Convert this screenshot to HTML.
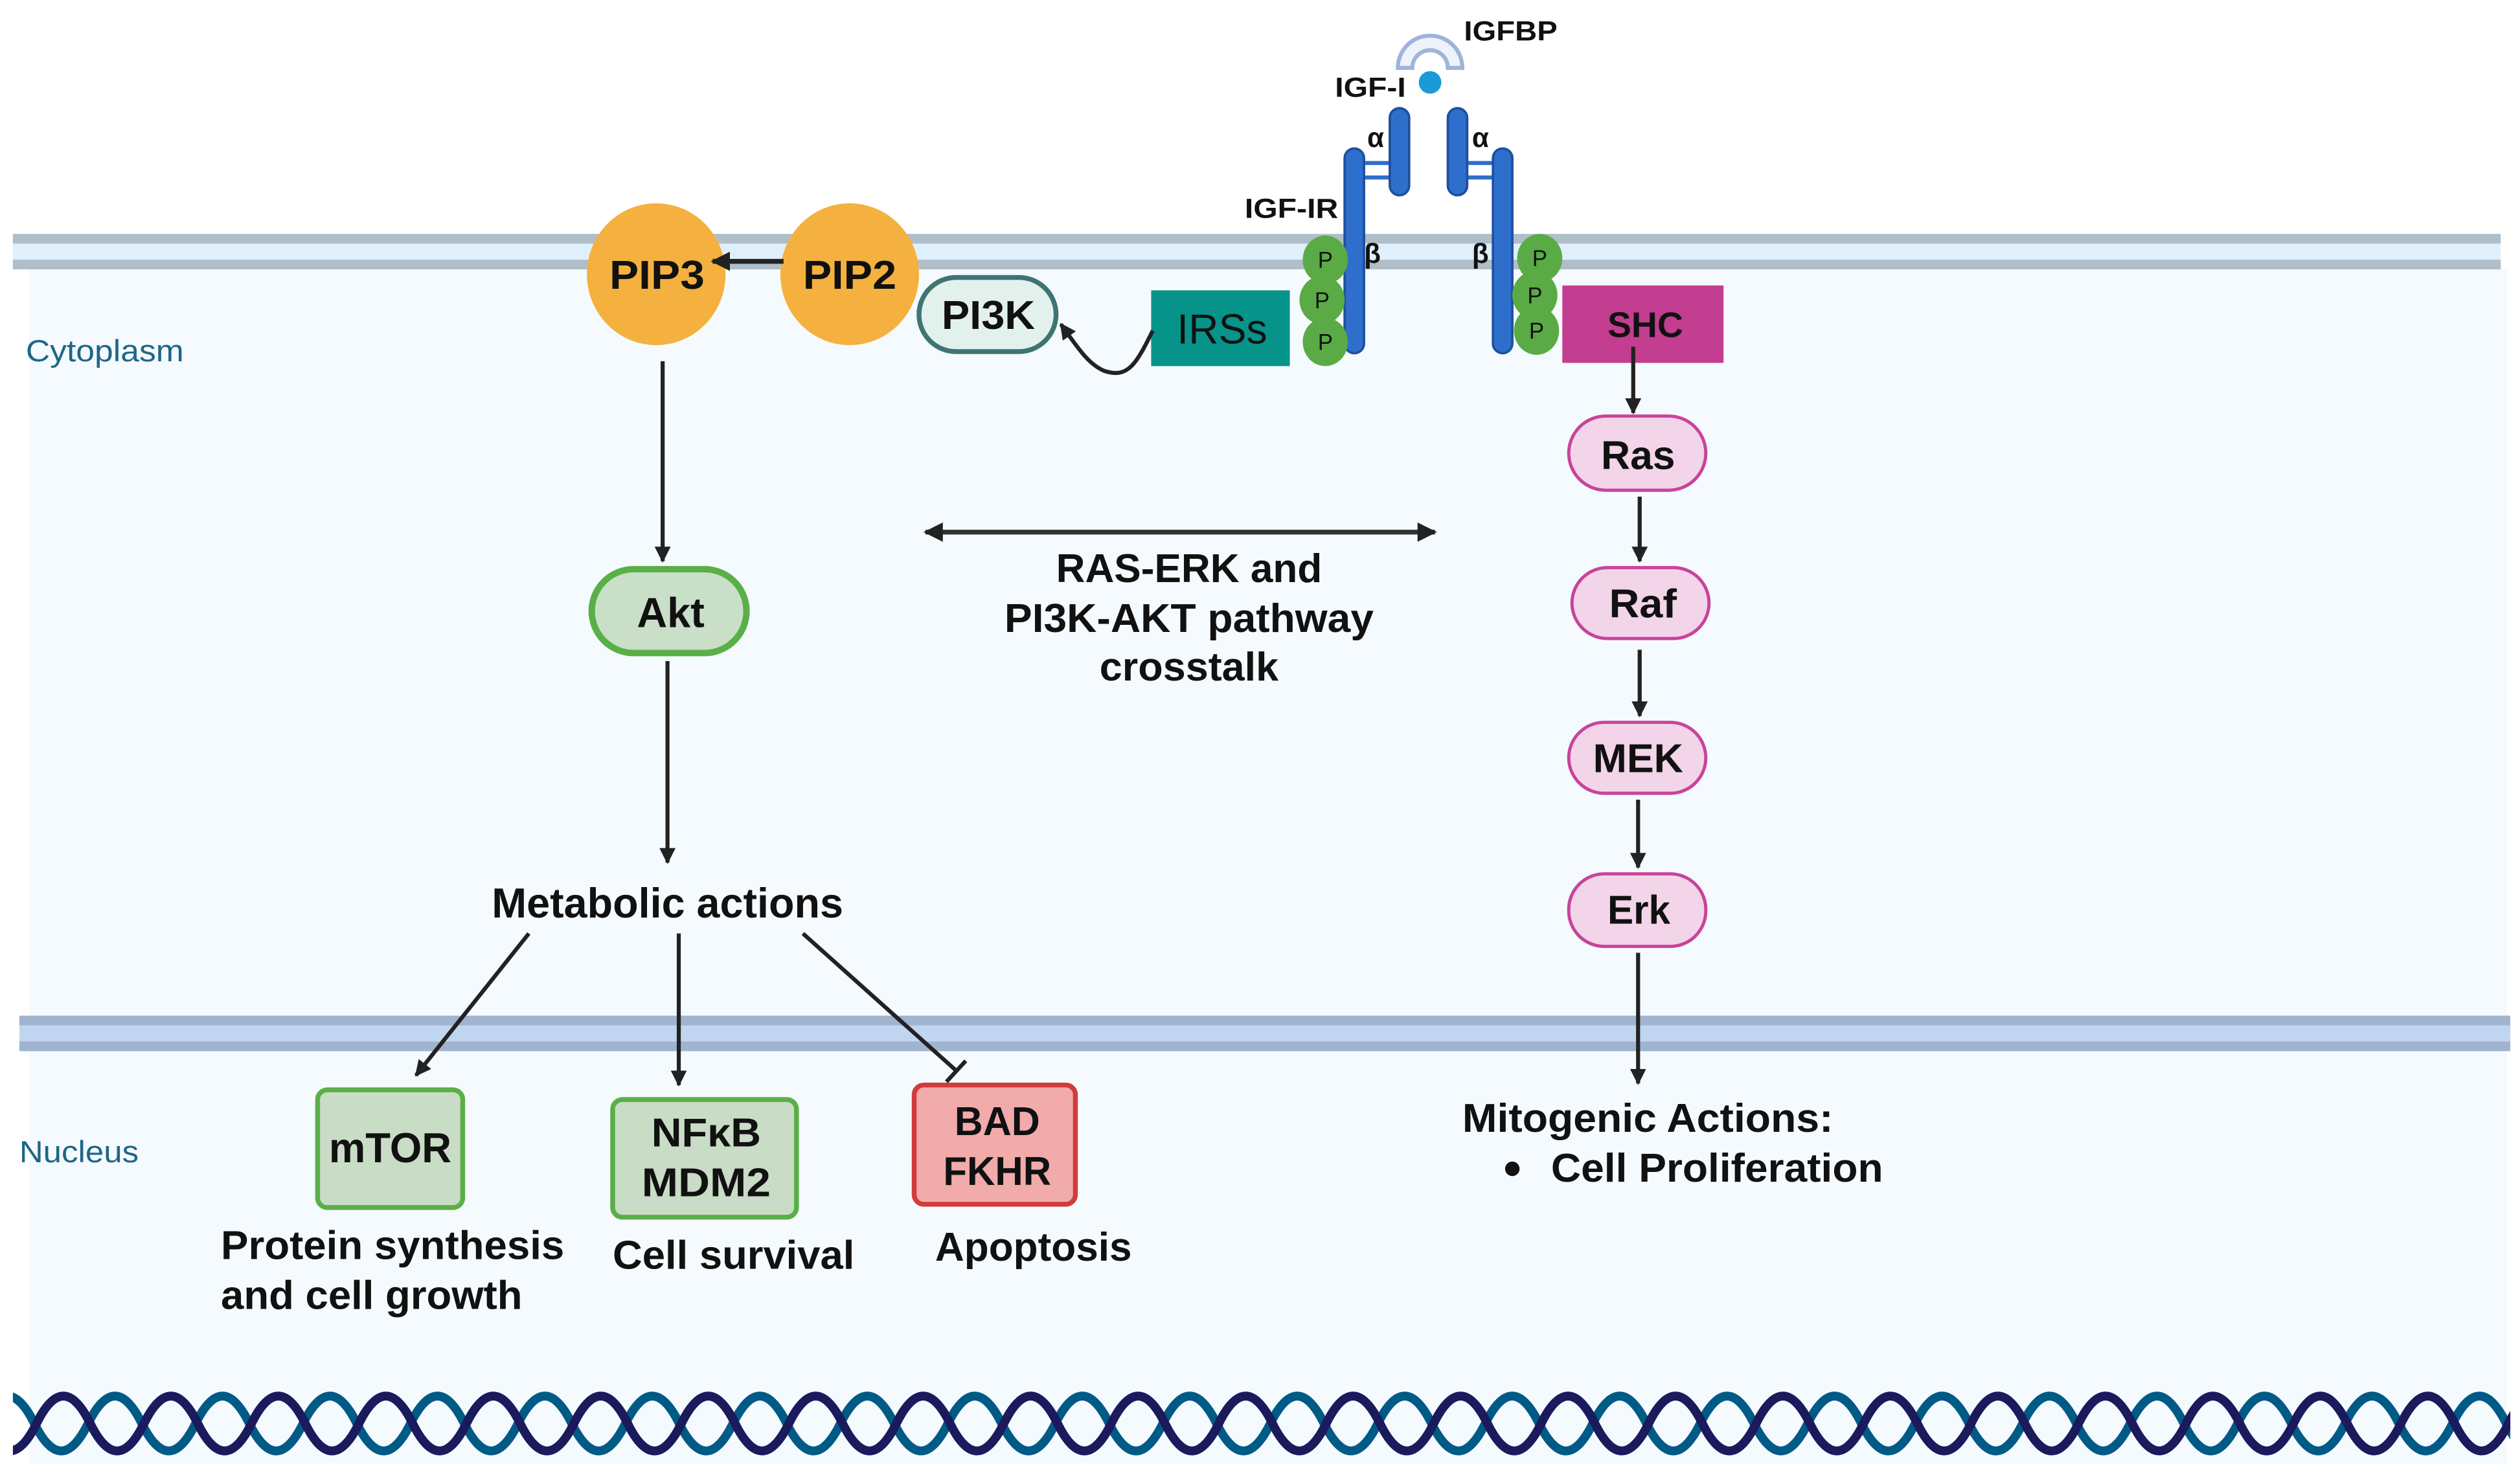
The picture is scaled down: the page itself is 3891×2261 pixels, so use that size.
<!DOCTYPE html>
<html><head><meta charset="utf-8"><style>
html,body{margin:0;padding:0;background:#fff;}
svg{display:block;}
text{font-family:"Liberation Sans",sans-serif;font-weight:bold;fill:#111;}
.n{font-weight:normal;}
</style></head><body>
<svg width="3891" height="2261" viewBox="0 0 1563 908" xmlns="http://www.w3.org/2000/svg">
<defs>
<marker id="ah" viewBox="0 0 10 10" refX="9" refY="5" markerWidth="4" markerHeight="4" orient="auto-start-reverse" markerUnits="strokeWidth"><path d="M0,0 L10,5 L0,10 z" fill="#222"/></marker>
<clipPath id="dc"><rect x="8" y="850" width="1549" height="60"/></clipPath>
</defs>
<rect width="1563" height="908" fill="#fff"/>
<rect x="18" y="167" width="1537" height="741" fill="#f5fafe"/>
<rect x="8" y="145" width="1543" height="22" fill="#e0effc"/>
<rect x="8" y="145" width="1543" height="6" fill="#b0bec9"/>
<rect x="8" y="161" width="1543" height="6" fill="#b0bec9"/>
<rect x="12" y="630" width="1545" height="22" fill="#c0d5f0"/>
<rect x="12" y="630" width="1545" height="6" fill="#a0b4cf"/>
<rect x="12" y="646" width="1545" height="6" fill="#a0b4cf"/>

<text class="n" x="16" y="224" font-size="19" style="fill:#1f6688" textLength="98" lengthAdjust="spacingAndGlyphs">Cytoplasm</text>
<text class="n" x="12" y="721" font-size="19" style="fill:#1f6688" textLength="74" lengthAdjust="spacingAndGlyphs">Nucleus</text>

<path d="M867,42 A20,20 0 0 1 907,42 L898,42 A11,11 0 0 0 876,42 Z" fill="#eef3fb" stroke="#9fb3dc" stroke-width="2.5"/>
<circle cx="887" cy="51" r="7" fill="#1a9ad6"/>
<text x="908" y="25" font-size="17" textLength="58" lengthAdjust="spacingAndGlyphs">IGFBP</text>
<text x="828" y="60" font-size="17" textLength="44" lengthAdjust="spacingAndGlyphs">IGF-I</text>
<text x="772" y="135" font-size="17" textLength="58" lengthAdjust="spacingAndGlyphs">IGF-IR</text>
<g fill="#2f6fcc" stroke="#1e4fa0" stroke-width="1.5">
<line x1="846" y1="101" x2="862" y2="101" stroke="#2f6fcc" stroke-width="2.5"/>
<line x1="846" y1="110" x2="862" y2="110" stroke="#2f6fcc" stroke-width="2.5"/>
<line x1="910" y1="101" x2="926" y2="101" stroke="#2f6fcc" stroke-width="2.5"/>
<line x1="910" y1="110" x2="926" y2="110" stroke="#2f6fcc" stroke-width="2.5"/>
<rect x="834" y="92" width="12" height="127" rx="6"/>
<rect x="862" y="67" width="12" height="54" rx="6"/>
<rect x="898" y="67" width="12" height="54" rx="6"/>
<rect x="926" y="92" width="12" height="127" rx="6"/>
</g>
<text x="848" y="91" font-size="17">α</text>
<text x="913" y="91" font-size="17">α</text>
<text x="846" y="163" font-size="17">β</text>
<text x="913" y="163" font-size="17">β</text>
<g fill="#5aab45">
<ellipse cx="822" cy="161" rx="14" ry="15"/><ellipse cx="820" cy="186" rx="14" ry="15"/><ellipse cx="822" cy="212" rx="14" ry="15"/>
<ellipse cx="955" cy="160" rx="14" ry="15"/><ellipse cx="952" cy="183" rx="14" ry="15"/><ellipse cx="953" cy="205" rx="14" ry="15"/>
</g>
<g font-size="14" class="n" text-anchor="middle">
<text class="n" x="822" y="166">P</text><text class="n" x="820" y="191">P</text><text class="n" x="822" y="217">P</text>
<text class="n" x="955" y="165">P</text><text class="n" x="952" y="188">P</text><text class="n" x="953" y="210">P</text>
</g>

<rect x="714" y="180" width="86" height="47" fill="#06938a"/>
<text class="n" x="730" y="213" font-size="26" textLength="56" lengthAdjust="spacingAndGlyphs">IRSs</text>
<rect x="570" y="172" width="85" height="46" rx="23" fill="#e3f1ed" stroke="#3f7473" stroke-width="3"/>
<text x="584" y="204" font-size="25" textLength="58" lengthAdjust="spacingAndGlyphs">PI3K</text>
<path d="M715,205 C705,225 700,235 685,230 C675,226 668,215 658,201" fill="none" stroke="#222" stroke-width="2.5" marker-end="url(#ah)"/>

<ellipse cx="407" cy="170" rx="43" ry="44" fill="#f4b13f"/>
<ellipse cx="527" cy="170" rx="43" ry="44" fill="#f4b13f"/>
<text x="378" y="179" font-size="25" textLength="59" lengthAdjust="spacingAndGlyphs">PIP3</text>
<text x="498" y="179" font-size="25" textLength="58" lengthAdjust="spacingAndGlyphs">PIP2</text>
<line x1="486" y1="162" x2="442" y2="162" stroke="#222" stroke-width="3" marker-end="url(#ah)"/>

<line x1="411" y1="224" x2="411" y2="348" stroke="#222" stroke-width="2.5" marker-end="url(#ah)"/>
<rect x="367" y="353" width="96" height="52" rx="26" fill="#c9dfc8" stroke="#5aaf48" stroke-width="4"/>
<text x="395" y="389" font-size="26" textLength="42" lengthAdjust="spacingAndGlyphs">Akt</text>
<line x1="414" y1="410" x2="414" y2="535" stroke="#222" stroke-width="2.5" marker-end="url(#ah)"/>
<text x="305" y="569" font-size="26" textLength="218" lengthAdjust="spacingAndGlyphs">Metabolic actions</text>
<line x1="328" y1="579" x2="258" y2="667" stroke="#222" stroke-width="2.5" marker-end="url(#ah)"/>
<line x1="421" y1="579" x2="421" y2="673" stroke="#222" stroke-width="2.5" marker-end="url(#ah)"/>
<line x1="498" y1="579" x2="593" y2="664" stroke="#222" stroke-width="2.5"/>
<line x1="587" y1="671" x2="599" y2="658" stroke="#222" stroke-width="2.5"/>

<rect x="197" y="676" width="90" height="73" rx="6" fill="#c9dcc6" stroke="#5aaf48" stroke-width="3"/>
<text x="204" y="721" font-size="26" textLength="76" lengthAdjust="spacingAndGlyphs">mTOR</text>
<rect x="380" y="682" width="114" height="73" rx="6" fill="#c9dcc6" stroke="#5aaf48" stroke-width="3"/>
<text x="404" y="711" font-size="25" textLength="68" lengthAdjust="spacingAndGlyphs">NFκB</text>
<text x="398" y="742" font-size="25" textLength="80" lengthAdjust="spacingAndGlyphs">MDM2</text>
<rect x="567" y="673" width="100" height="74" rx="6" fill="#f0abaa" stroke="#d03c3a" stroke-width="3"/>
<text x="592" y="704" font-size="25" textLength="53" lengthAdjust="spacingAndGlyphs">BAD</text>
<text x="585" y="735" font-size="25" textLength="67" lengthAdjust="spacingAndGlyphs">FKHR</text>

<text x="137" y="781" font-size="25" textLength="213" lengthAdjust="spacingAndGlyphs">Protein synthesis</text>
<text x="137" y="812" font-size="25" textLength="187" lengthAdjust="spacingAndGlyphs">and cell growth</text>
<text x="380" y="787" font-size="25" textLength="150" lengthAdjust="spacingAndGlyphs">Cell survival</text>
<text x="580" y="782" font-size="25" textLength="122" lengthAdjust="spacingAndGlyphs">Apoptosis</text>

<line x1="574" y1="330" x2="890" y2="330" stroke="#333" stroke-width="3" marker-start="url(#ah)" marker-end="url(#ah)"/>
<text x="655" y="361" font-size="25" textLength="165" lengthAdjust="spacingAndGlyphs">RAS-ERK and</text>
<text x="623" y="392" font-size="25" textLength="229" lengthAdjust="spacingAndGlyphs">PI3K-AKT pathway</text>
<text x="682" y="422" font-size="25" textLength="111" lengthAdjust="spacingAndGlyphs">crosstalk</text>

<rect x="969" y="177" width="100" height="48" fill="#c33d90"/>
<text x="997" y="209" font-size="22" textLength="47" lengthAdjust="spacingAndGlyphs">SHC</text>
<line x1="1013" y1="215" x2="1013" y2="256" stroke="#222" stroke-width="2.5" marker-end="url(#ah)"/>
<rect x="973" y="258" width="85" height="46" rx="23" fill="#f2d5e8" stroke="#c8449a" stroke-width="2"/>
<text x="993" y="291" font-size="25" textLength="46" lengthAdjust="spacingAndGlyphs">Ras</text>
<line x1="1017" y1="308" x2="1017" y2="348" stroke="#222" stroke-width="2.5" marker-end="url(#ah)"/>
<rect x="975" y="352" width="85" height="44" rx="22" fill="#f2d5e8" stroke="#c8449a" stroke-width="2"/>
<text x="998" y="383" font-size="25" textLength="42" lengthAdjust="spacingAndGlyphs">Raf</text>
<line x1="1017" y1="403" x2="1017" y2="444" stroke="#222" stroke-width="2.5" marker-end="url(#ah)"/>
<rect x="973" y="448" width="85" height="44" rx="22" fill="#f2d5e8" stroke="#c8449a" stroke-width="2"/>
<text x="988" y="479" font-size="25" textLength="56" lengthAdjust="spacingAndGlyphs">MEK</text>
<line x1="1016" y1="496" x2="1016" y2="538" stroke="#222" stroke-width="2.5" marker-end="url(#ah)"/>
<rect x="973" y="542" width="85" height="45" rx="22" fill="#f2d5e8" stroke="#c8449a" stroke-width="2"/>
<text x="997" y="573" font-size="25" textLength="39" lengthAdjust="spacingAndGlyphs">Erk</text>
<line x1="1016" y1="591" x2="1016" y2="672" stroke="#222" stroke-width="2.5" marker-end="url(#ah)"/>
<text x="907" y="702" font-size="25" textLength="230" lengthAdjust="spacingAndGlyphs">Mitogenic Actions:</text>
<circle cx="938" cy="725" r="4.5" fill="#111"/>
<text x="962" y="733" font-size="25" textLength="206" lengthAdjust="spacingAndGlyphs">Cell Proliferation</text>

<g clip-path="url(#dc)" fill="none" stroke-width="5.5">
<path stroke="#005a86" d="M-12,883 q16.67,-34 33.33,0 t33.33,0 t33.33,0 t33.33,0 t33.33,0 t33.33,0 t33.33,0 t33.33,0 t33.33,0 t33.33,0 t33.33,0 t33.33,0 t33.33,0 t33.33,0 t33.33,0 t33.33,0 t33.33,0 t33.33,0 t33.33,0 t33.33,0 t33.33,0 t33.33,0 t33.33,0 t33.33,0 t33.33,0 t33.33,0 t33.33,0 t33.33,0 t33.33,0 t33.33,0 t33.33,0 t33.33,0 t33.33,0 t33.33,0 t33.33,0 t33.33,0 t33.33,0 t33.33,0 t33.33,0 t33.33,0 t33.33,0 t33.33,0 t33.33,0 t33.33,0 t33.33,0 t33.33,0 t33.33,0 t33.33,0 t33.33,0 t33.33,0"/>
<path stroke="#1a1a5c" d="M-44,883 q16.67,-34 33.33,0 t33.33,0 t33.33,0 t33.33,0 t33.33,0 t33.33,0 t33.33,0 t33.33,0 t33.33,0 t33.33,0 t33.33,0 t33.33,0 t33.33,0 t33.33,0 t33.33,0 t33.33,0 t33.33,0 t33.33,0 t33.33,0 t33.33,0 t33.33,0 t33.33,0 t33.33,0 t33.33,0 t33.33,0 t33.33,0 t33.33,0 t33.33,0 t33.33,0 t33.33,0 t33.33,0 t33.33,0 t33.33,0 t33.33,0 t33.33,0 t33.33,0 t33.33,0 t33.33,0 t33.33,0 t33.33,0 t33.33,0 t33.33,0 t33.33,0 t33.33,0 t33.33,0 t33.33,0 t33.33,0 t33.33,0 t33.33,0 t33.33,0"/>
</g>
</svg>
</body></html>
